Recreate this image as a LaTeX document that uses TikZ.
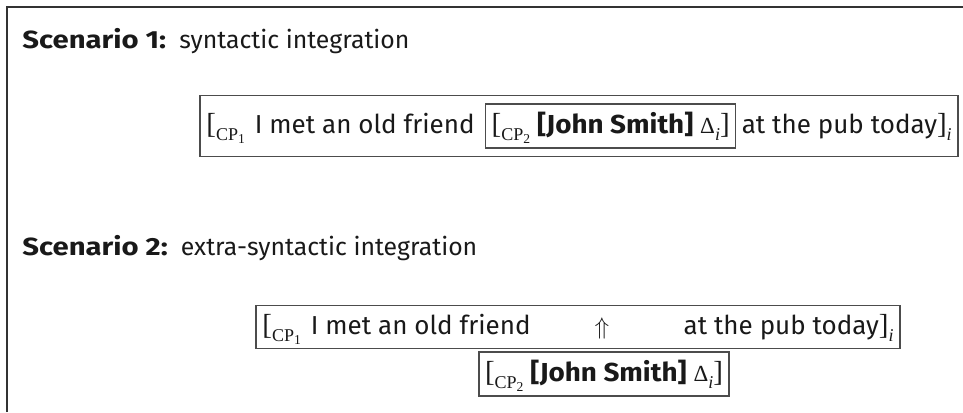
\documentclass[tikz,border=0pt]{standalone}
\usepackage{fontspec}
\setmainfont{Fira Sans}
\newfontfamily\headbf{Fira Sans}[FakeStretch=1.18]
\newfontfamily\namebf{Fira Sans}[FakeStretch=1.07]
\newfontfamily\cpserif{Liberation Serif}
\usetikzlibrary{positioning,fit}

% labelled brackets: [_{CP_n} ... ]_i
\newcommand\lbr{{\cpserif\fontsize{14.5}{16}\selectfont[}}
\newcommand\rbr{{\cpserif\fontsize{14.5}{16}\selectfont]}}
\newcommand\cpopen[1]{\lbr\raisebox{-0.55ex}{\cpserif\fontsize{9}{10}\selectfont CP\raisebox{-0.35ex}{\fontsize{6.8}{7}\selectfont #1}}}
\newcommand\idx{\raisebox{-0.55ex}{\cpserif\itshape\fontsize{9}{10}\selectfont i}}
\newcommand\gapdelta{{\cpserif\fontsize{11.5}{13}\selectfont Δ}\idx}
\newcommand\heavy[1]{{\headbf\bfseries #1}}
\newcommand\name[1]{{\namebf\bfseries #1}}

\begin{document}
\begin{tikzpicture}[x=0.5pt, y=-0.5pt,
  lbl/.style={anchor=base west, inner sep=0pt, text=black!90, font=\fontsize{12.4}{14}\selectfont},
  sent/.style={inner sep=0pt, text height=12pt, text depth=5pt, text=black!90, font=\fontsize{13}{15}\selectfont},
  cpbox/.style={sent, draw=black!70, line width=0.7pt, inner xsep=2.5pt, inner ysep=2.5pt, minimum width=125pt},
  outbox/.style={draw=black!70, line width=0.7pt, inner xsep=3pt, inner ysep=4pt},
  frame/.style={draw=black!80, line width=1pt}
]
\useasboundingbox (0,0) rectangle (963,412);
\draw[frame] (7,412) -- (7,7) -- (963,7);

% scenario 1
\node[lbl] (title1) at (22,48) {\heavy{Scenario 1:}\ \ syntactic integration};
\node[sent, anchor=base west] (s1pre) at (206,133) {\cpopen{1}\hspace{5pt}I met an old friend};
\node[cpbox, right=5pt of s1pre] (s1cp) {\cpopen{2} \name{[John Smith]} \gapdelta\rbr};
\node[sent, right=2.5pt of s1cp] (s1post) {at the pub today\rbr\idx};
\node[outbox, fit=(s1pre)(s1cp)(s1post)] (s1) {};

% scenario 2
\node[lbl] (title2) at (22,255) {\heavy{Scenario 2:}\ \ extra-syntactic integration};
\node[sent, anchor=base west] (s2pre) at (262,334) {\cpopen{1}\hspace{5pt}I met an old friend};
\node[sent, anchor=base] (s2gap) at (602,334) {$\Uparrow$};
\node[sent, anchor=base east] (s2post) at (894,334) {at the pub today\rbr\idx};
\node[outbox, fit=(s2pre)(s2gap)(s2post), inner ysep=2pt] (s2) {};
\node[cpbox, anchor=base] (s2cp) at (604,381) {\cpopen{2} \name{[John Smith]} \gapdelta\rbr};
\end{tikzpicture}
\end{document}
